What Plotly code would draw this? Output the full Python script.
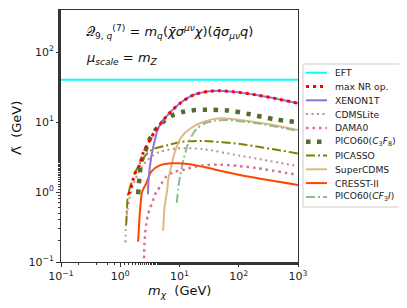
import plotly.graph_objects as go

# ---------------- data ----------------
eft_m = [0.1, 1000]
eft_L = [40, 40]

maxnr_m = [1.40, 1.41, 1.50, 1.64, 1.79, 2.13, 2.42, 2.86, 3.34, 3.86, 4.5, 6.47, 10.2, 17.1, 30, 48, 100, 200, 400, 1000]
maxnr_L = [0.93, 0.96, 1.13, 1.48, 1.89, 2.43, 3.57, 4.69, 6.04, 7.4, 8.9, 12.9, 18.5, 24.3, 27.3, 28, 26.5, 24.3, 21.8, 18.5]

xenon_m = [2.94, 3.0, 3.34, 3.8, 4.22, 4.8, 6.47, 10.2, 17.1, 30, 48, 100, 200, 400, 1000]
xenon_L = [0.93, 1.48, 3.19, 5.3, 7.5, 9.4, 12.9, 18.5, 24.3, 27.3, 28, 26.5, 24.3, 21.8, 18.5]

cdms_m = [1.22, 1.24, 1.3, 1.45, 1.7, 2.1, 2.7, 3.5, 4.5, 9.0, 25, 105, 1000]
cdms_L = [0.19, 0.3, 0.5, 0.85, 1.35, 2.0, 2.7, 3.3, 3.7, 4.2, 4.1, 3.3, 2.35]

dama_m = [2.52, 2.58, 2.75, 2.94, 3.14, 3.47, 3.81, 4.22, 4.93, 6.1, 8.4, 12.4, 18.3, 25, 48, 100, 200, 1000]
dama_L = [0.113, 0.206, 0.357, 0.47, 0.58, 0.70, 0.91, 1.03, 1.3, 1.7, 1.95, 2.1, 2.3, 2.4, 2.45, 2.35, 2.2, 1.75]

pico_c3f8_m = [2.0, 2.07, 2.15, 2.3, 2.59, 3.14, 3.9, 5.33, 7.85, 11.6, 18.3, 28.8, 66.7, 155, 383, 1000]
pico_c3f8_L = [0.93, 1.33, 1.95, 2.8, 3.64, 5.66, 7.6, 10.1, 12.6, 14.0, 14.8, 15.0, 14.6, 12.9, 11.0, 9.9]

picasso_m = [1.26, 1.3, 1.35, 1.54, 1.87, 2.42, 3.34, 6.4, 10.9, 25, 105, 1000]
picasso_L = [0.34, 0.6, 0.91, 1.33, 2.06, 3.03, 3.98, 4.69, 5.2, 5.36, 4.85, 3.55]

supercdms_m = [5.3, 5.45, 5.6, 6.2, 6.45, 7.4, 8.4, 10.9, 15, 25, 48, 200, 1000]
supercdms_L = [0.28, 0.45, 0.62, 1.07, 1.5, 2.5, 3.8, 6.2, 8.0, 10.0, 11.3, 9.9, 7.7]

cresst_m = [2.0, 2.1, 2.21, 2.33, 2.75, 3.34, 4.63, 7.85, 15, 27, 105, 1000]
cresst_L = [0.195, 0.4, 0.69, 1.0, 1.33, 1.95, 2.4, 2.57, 2.5, 2.25, 1.75, 1.26]

pico_cf3i_m = [8.98, 9.5, 10.2, 11.6, 13.3, 15, 19.5, 27, 40, 62, 200, 1000]
pico_cf3i_L = [0.7, 1.1, 1.66, 2.86, 4.3, 5.7, 8.0, 9.6, 10.4, 10.7, 9.6, 7.5]

x_tickvals = [0.1, 1, 10, 100, 1000]
x_ticktext = ["10<sup>\u22121</sup>", "10<sup>0</sup>", "10<sup>1</sup>", "10<sup>2</sup>", "10<sup>3</sup>"]
y_tickvals = [0.1, 1, 10, 100]
y_ticktext = ["10<sup>\u22121</sup>", "10<sup>0</sup>", "10<sup>1</sup>", "10<sup>2</sup>"]

legend_labels = ["EFT", "max NR op.", "XENON1T", "CDMSLite", "DAMA0",
                 "PICO60(<i>C</i><sub>3</sub><i>F</i><sub>8</sub>)", "PICASSO",
                 "SuperCDMS", "CRESST-II", "PICO60(<i>CF</i><sub>3</sub><i>I</i>)"]

# ---------------- styles ----------------
styles = {
    "EFT": dict(color="#00FFFF", width=2, dash="solid"),
    "max NR op.": dict(color="#FF0000", width=3, dash="3px,4px"),
    "XENON1T": dict(color="#9370DB", width=2, dash="solid"),
    "CDMSLite": dict(color="#BC8F8F", width=2, dash="2px,3.5px"),
    "DAMA0": dict(color="#DB7093", width=2.5, dash="2.5px,4px"),
    "PICO60C3F8": dict(color="#556B2F", width=4.5, dash="4.5px,6.5px"),
    "PICASSO": dict(color="#808000", width=2, dash="9px,3px,2px,3px"),
    "SuperCDMS": dict(color="#DEB887", width=2, dash="solid"),
    "CRESST-II": dict(color="#FF4500", width=2, dash="solid"),
    "PICO60CF3I": dict(color="#8FBC8F", width=2, dash="9px,3px,2px,3px"),
}

series = [
    ("EFT", eft_m, eft_L),
    ("CDMSLite", cdms_m, cdms_L),
    ("DAMA0", dama_m, dama_L),
    ("PICASSO", picasso_m, picasso_L),
    ("SuperCDMS", supercdms_m, supercdms_L),
    ("PICO60CF3I", pico_cf3i_m, pico_cf3i_L),
    ("CRESST-II", cresst_m, cresst_L),
    ("PICO60C3F8", pico_c3f8_m, pico_c3f8_L),
    ("XENON1T", xenon_m, xenon_L),
    ("max NR op.", maxnr_m, maxnr_L),
]

fig = go.Figure()
for name, xs, ys in series:
    s = styles[name]
    fig.add_trace(go.Scatter(x=xs, y=ys, mode="lines", name=name, showlegend=False,
                             line=dict(color=s["color"], width=s["width"], dash=s["dash"],
                                       shape="spline", smoothing=0.7),
                             hoverinfo="skip"))

# ---------------- layout (page has an 8px body margin) ----------------
OFF = 8
W, H = 407 - OFF, 308 - OFF
PL, PR, PT, PB = 61, 298, 10, 262   # plot area in window pixels
L, R, T, B = PL - OFF, 407 - PR, PT - OFF, 308 - PB
pw, ph = PR - PL, PB - PT

def px(x):
    return (x - PL) / pw

def py(y):
    return (PB - y) / ph

legend_keys = ["EFT", "max NR op.", "XENON1T", "CDMSLite", "DAMA0",
               "PICO60C3F8", "PICASSO", "SuperCDMS", "CRESST-II", "PICO60CF3I"]
shapes = []
annotations = []
shapes.append(dict(type="rect", xref="paper", yref="paper",
                   x0=px(303), x1=px(400), y0=py(207), y1=py(64),
                   line=dict(color="#cccccc", width=1), fillcolor="rgba(255,255,255,0.8)"))
for i, (key, lab) in enumerate(zip(legend_keys, legend_labels)):
    yy = 72.7 + i * 13.8
    s = styles[key]
    shapes.append(dict(type="line", xref="paper", yref="paper",
                       x0=px(306), x1=px(327), y0=py(yy), y1=py(yy),
                       line=dict(color=s["color"], width=s["width"], dash=s["dash"])))
    annotations.append(dict(xref="paper", yref="paper", x=px(333), y=py(yy),
                            xanchor="left", yanchor="middle", showarrow=False,
                            text=lab, font=dict(family="DejaVu Sans", size=9.2, color="#222222")))

annotations.append(dict(xref="paper", yref="paper", x=px(84), y=py(32), xanchor="left",
                        yanchor="middle", showarrow=False,
                        text="\U0001D4AC<sub>9, <i>q</i></sub><sup>(7)</sup> = <i>m<sub>q</sub></i>(<i>\u03c7\u0304\u03c3<sup>\u03bc\u03bd</sup>\u03c7</i>)(<i>q\u0304\u03c3<sub>\u03bc\u03bd</sub>q</i>)",
                        font=dict(family="DejaVu Sans", size=13, color="#111111")))
annotations.append(dict(xref="paper", yref="paper", x=px(84), y=py(59), xanchor="left",
                        yanchor="middle", showarrow=False,
                        text="<i>\u03bc<sub>scale</sub></i> = <i>m<sub>Z</sub></i>",
                        font=dict(family="DejaVu Sans", size=13, color="#111111")))
# axis titles
annotations.append(dict(xref="paper", yref="paper", x=px(179.5), y=py(291), xanchor="center",
                        yanchor="middle", showarrow=False,
                        text="<i>m<sub>\u03c7</sub></i>  (GeV)",
                        font=dict(family="DejaVu Sans", size=13, color="#111111")))
annotations.append(dict(xref="paper", yref="paper", x=px(16), y=py(128), xanchor="center",
                        yanchor="middle", showarrow=False, textangle=-90,
                        text="\u039b\u0303  (GeV)",
                        font=dict(family="DejaVu Sans", size=13, color="#111111")))

axis_common = dict(type="log", showgrid=False, zeroline=False, showline=True, mirror=True,
                   linecolor="#333333", linewidth=1, ticks="outside", ticklen=4,
                   tickcolor="#333333", automargin=False,
                   tickfont=dict(family="DejaVu Sans", size=11, color="#222222"),
                   minor=dict(ticks="outside", ticklen=2, tickcolor="#333333", showgrid=False))

fig.update_layout(
    width=W, height=H,
    margin=dict(l=L, r=R, t=T, b=B, autoexpand=False),
    paper_bgcolor="white", plot_bgcolor="white",
    shapes=shapes, annotations=annotations,
    xaxis=dict(axis_common, range=[-1, 3], tickvals=x_tickvals, ticktext=x_ticktext),
    yaxis=dict(axis_common, range=[-1, 2.6], tickvals=y_tickvals, ticktext=y_ticktext),
    showlegend=False,
)

fig.write_html("out.html")
